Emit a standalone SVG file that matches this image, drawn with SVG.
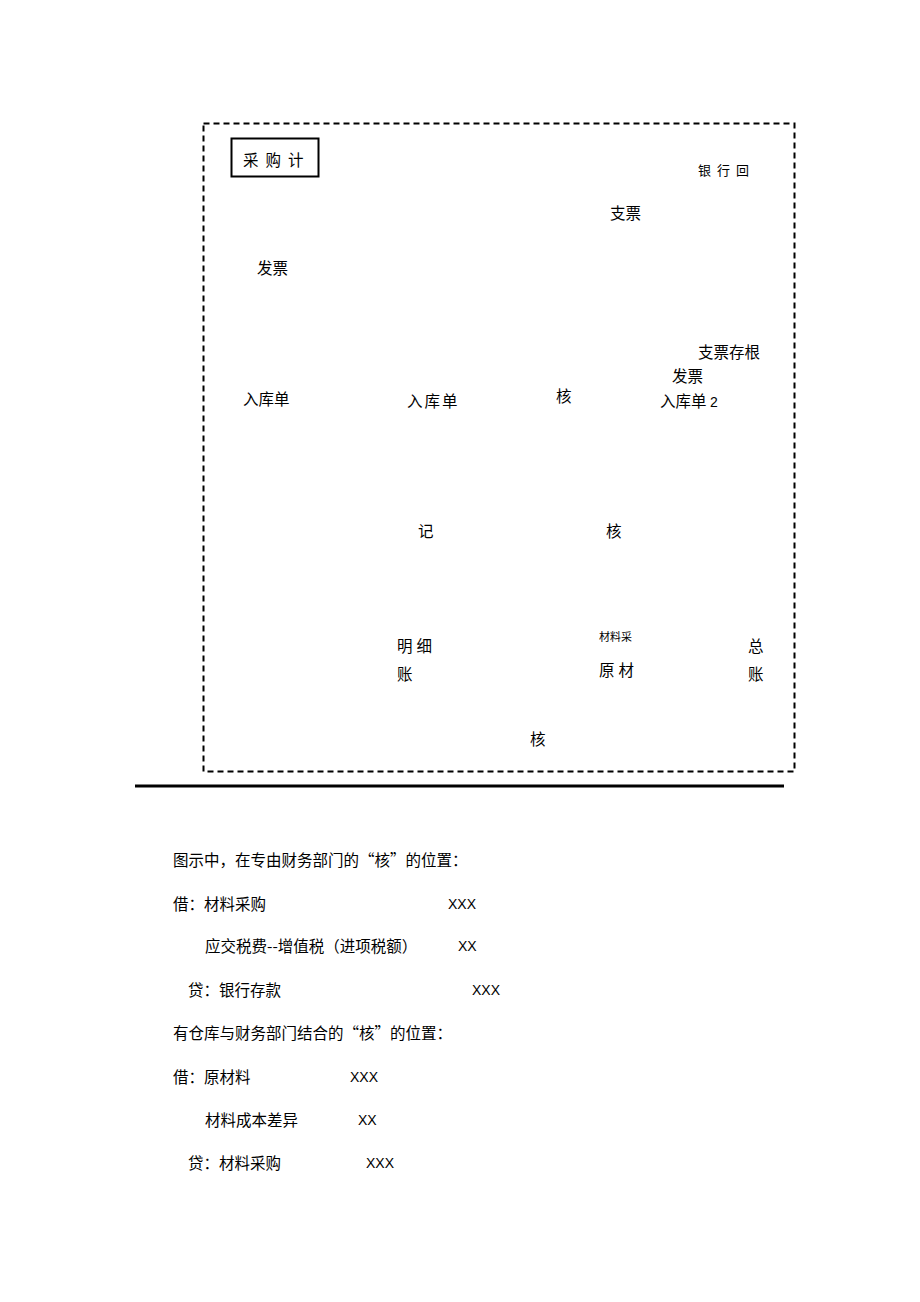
<svg xmlns="http://www.w3.org/2000/svg" width="920" height="1302" viewBox="0 0 920 1302">
<style>
text{font-family:"Noto Sans CJK SC","Liberation Sans",sans-serif;font-size:15.5px;fill:#000}
.s{font-size:13px;letter-spacing:6px}
.xs{font-size:11px}
.l{font-family:"Liberation Sans",Arial,sans-serif;font-size:14px}
</style>
<rect width="920" height="1302" fill="#fff"/>
<g id="frame">
<rect x="203.5" y="123.5" width="591" height="648" fill="none" stroke="#000" stroke-width="2" stroke-dasharray="6,4"/>
</g>
<g id="connectors"></g>
<g id="plan">
<rect x="231.5" y="138.5" width="87" height="38" fill="none" stroke="#000" stroke-width="2"/>
<text x="243" y="166" style="letter-spacing:7px">采购计</text>
</g>
<g id="bank"><text class="s" x="698" y="175">银行回</text></g>
<g id="cheque"><text x="610" y="219">支票</text></g>
<g id="invoice1"><text x="257" y="274">发票</text></g>
<g id="stub"><text x="698" y="358">支票存根</text></g>
<g id="invoice2"><text x="672" y="382">发票</text></g>
<g id="receipt1"><text x="243" y="405">入库单</text></g>
<g id="receipt2"><text x="407" y="407" style="letter-spacing:2px">入库单</text></g>
<g id="check1"><text x="556" y="402">核</text></g>
<g id="receipt3"><text x="660" y="407">入库单 <tspan class="l" font-size="15.5px">2</tspan></text></g>
<g id="record"><text x="418" y="537">记</text></g>
<g id="check2"><text x="606" y="537">核</text></g>
<g id="detail"><text x="397" y="652" style="letter-spacing:4px">明细</text><text x="397" y="680">账</text></g>
<g id="material"><text class="xs" x="599" y="641">材料采</text><text x="599" y="676" style="letter-spacing:4px">原材</text></g>
<g id="ledger"><text x="748" y="652">总</text><text x="748" y="680">账</text></g>
<g id="check3"><text x="530" y="745">核</text></g>
<line x1="135" y1="786" x2="784" y2="786" stroke="#000" stroke-width="3"/>
<g id="notes">
<text x="173" y="866">图示中，在专由财务部门的“核”的位置：</text>
<text x="173" y="910">借：材料采购</text><text class="l" x="448" y="909">XXX</text>
<text x="205" y="952">应交税费--增值税（进项税额）</text><text class="l" x="458" y="951">XX</text>
<text x="188" y="996">贷：银行存款</text><text class="l" x="472" y="995">XXX</text>
<text x="173" y="1039">有仓库与财务部门结合的“核”的位置：</text>
<text x="173" y="1083">借：原材料</text><text class="l" x="350" y="1082">XXX</text>
<text x="205" y="1126">材料成本差异</text><text class="l" x="358" y="1125">XX</text>
<text x="188" y="1169">贷：材料采购</text><text class="l" x="366" y="1168">XXX</text>
</g>
</svg>
